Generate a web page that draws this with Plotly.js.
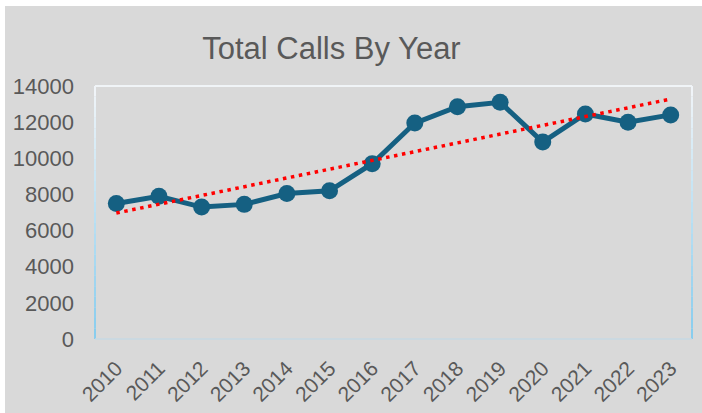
<!DOCTYPE html>
<html>
<head>
<meta charset="utf-8">
<script src="https://cdn.plot.ly/plotly-3.0.1.min.js"></script>
<style>
  html, body { margin: 0; padding: 0; background: #ffffff; width: 702px; height: 413px; overflow: hidden; }
  #chart { position: absolute; left: 5px; top: 6px; width: 697px; height: 407px; background: #d9d9d9; }
</style>
</head>
<body>
<div id="chart"></div>
<script>
const years = ["2010","2011","2012","2013","2014","2015","2016","2017","2018","2019","2020","2021","2022","2023"];
const totalCalls = [7500, 7900, 7300, 7450, 8050, 8200, 9700, 11950, 12850, 13100, 10900, 12450, 12000, 12400];
const yTicks = [0, 2000, 4000, 6000, 8000, 10000, 12000, 14000];

// Linear (least-squares) trendline over the series, as the spreadsheet does
const n = totalCalls.length;
const xs = totalCalls.map((_, i) => i);
const mx = xs.reduce((a, b) => a + b, 0) / n;
const my = totalCalls.reduce((a, b) => a + b, 0) / n;
let sxy = 0, sxx = 0;
for (let i = 0; i < n; i++) { sxy += (xs[i] - mx) * (totalCalls[i] - my); sxx += (xs[i] - mx) ** 2; }
const slope = sxy / sxx;
const trend = xs.map(x => my + slope * (x - mx));

const lineTrace = {
  x: years, y: totalCalls, type: 'scatter', mode: 'lines+markers',
  line: { color: '#156082', width: 5 },
  marker: { color: '#156082', size: 17 },
  hoverinfo: 'skip', showlegend: false
};
const trendTrace = {
  x: [years[0], years[n - 1]], y: [trend[0], trend[n - 1]], type: 'scatter', mode: 'lines',
  line: { color: '#ff0000', width: 3.5, dash: '3.5px,4.6px' },
  hoverinfo: 'skip', showlegend: false
};

// Gradient border around the plot area (light at top, sky blue at bottom)
function mix(c1, c2, t) {
  const p = h => [1,3,5].map(k => parseInt(h.substr(k, 2), 16));
  const a = p(c1), b = p(c2);
  return 'rgb(' + a.map((v, i) => Math.round(v + (b[i] - v) * t)).join(',') + ')';
}
const shapes = [];
const segs = 24;
for (let s = 0; s < segs; s++) {
  const y0 = 1 - s / segs, y1 = 1 - (s + 1) / segs;
  const col = mix('#f2f5f8', '#86ccee', (s + 0.5) / segs);
  [0, 1].forEach(xp => shapes.push({ type: 'line', xref: 'paper', yref: 'paper', x0: xp, x1: xp, y0: y0, y1: y1, line: { color: col, width: 2 } }));
}
shapes.push({ type: 'line', xref: 'paper', yref: 'paper', x0: 0, x1: 1, y0: 1, y1: 1, line: { color: '#f0f4f7', width: 2 } });
shapes.push({ type: 'line', xref: 'paper', yref: 'paper', x0: 0, x1: 1, y0: 0, y1: 0, line: { color: '#c6d9e3', width: 1.5 } });

const layout = {
  width: 697, height: 407,
  paper_bgcolor: '#d9d9d9', plot_bgcolor: '#d9d9d9',
  margin: { l: 90, r: 10, t: 80, b: 74 },
  font: { family: 'Liberation Sans, Arial, sans-serif', color: '#595959' },
  title: {
    text: 'Total Calls By Year',
    font: { size: 31, color: '#595959', family: 'Liberation Sans, Arial, sans-serif' },
    x: 0.4684, xref: 'container', xanchor: 'center',
    y: 0.897, yref: 'container', yanchor: 'middle'
  },
  xaxis: {
    type: 'category', categoryorder: 'array', categoryarray: years,
    range: [-0.5, 13.5],
    tickvals: years, ticktext: years,
    tickangle: -45, tickfont: { size: 21, color: '#595959' },
    showgrid: false, zeroline: false, showline: false, ticks: '',
    ticklabelstandoff: 12, fixedrange: true
  },
  yaxis: {
    range: [0, 14000], tickvals: yTicks, ticktext: yTicks.map(String),
    tickfont: { size: 22, color: '#595959' },
    showgrid: false, zeroline: false, showline: false, ticks: '',
    ticklabelstandoff: 20, fixedrange: true
  },
  shapes: shapes
};

Plotly.newPlot('chart', [lineTrace, trendTrace], layout, { staticPlot: true, displayModeBar: false });
</script>
</body>
</html>
